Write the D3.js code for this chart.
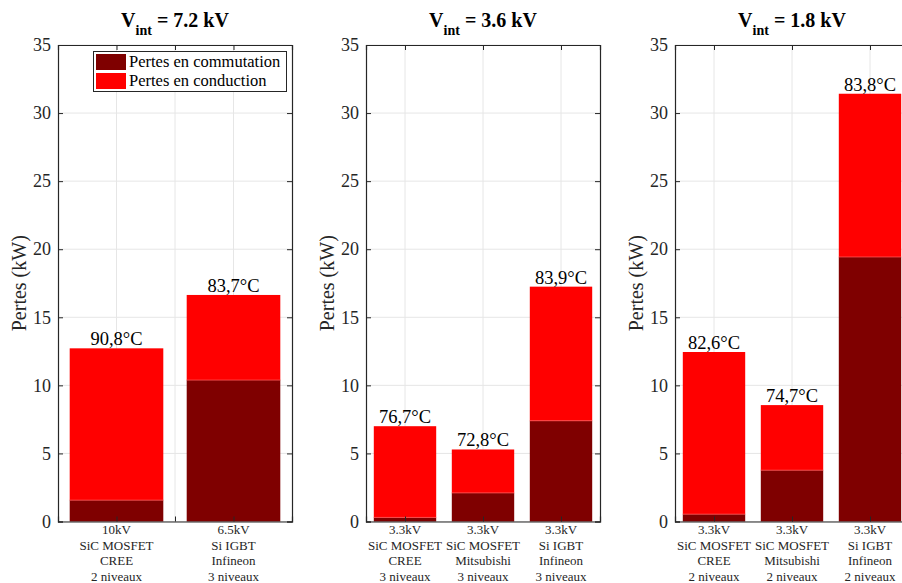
<!DOCTYPE html>
<html><head><meta charset="utf-8">
<script src="https://cdn.jsdelivr.net/npm/d3@7"></script>
<style>body{margin:0;background:#fff}svg{display:block}</style>
</head><body><svg id="c" width="902" height="583" style="font-family:'Liberation Serif',serif"></svg>
<script>
// Data
const titles = ["7.2 kV", "3.6 kV", "1.8 kV"];
const cats1 = [["10kV","SiC MOSFET","CREE","2 niveaux"],["6.5kV","Si IGBT","Infineon","3 niveaux"]];
const cats2 = [["3.3kV","SiC MOSFET","CREE","3 niveaux"],["3.3kV","SiC MOSFET","Mitsubishi","3 niveaux"],["3.3kV","Si IGBT","Infineon","3 niveaux"]];
const cats3 = [["3.3kV","SiC MOSFET","CREE","2 niveaux"],["3.3kV","SiC MOSFET","Mitsubishi","2 niveaux"],["3.3kV","Si IGBT","Infineon","2 niveaux"]];
const commut1 = [1.57, 10.39];
const conduc1 = [11.15, 6.25];
const commut2 = [0.3, 2.1, 7.4];
const conduc2 = [6.7, 3.19, 9.85];
const commut3 = [0.54, 3.77, 19.43];
const conduc3 = [11.91, 4.78, 11.99];
const temps1 = ["90,8°C", "83,7°C"];
const temps2 = ["76,7°C", "72,8°C", "83,9°C"];
const temps3 = ["82,6°C", "74,7°C", "83,8°C"];
const xticks1 = [1, 1.5, 2];
const yticks = [0, 5, 10, 15, 20, 25, 30, 35];
const seriesNames = ["Pertes en commutation", "Pertes en conduction"];
const colors = ["#7f0000", "#ff0000"];

const FONT = "'Liberation Serif', serif";
const panels = [
  {title: titles[0], cats: cats1, commut: commut1, conduc: conduc1, temps: temps1, xt: xticks1, left: 58, legend: true},
  {title: titles[1], cats: cats2, commut: commut2, conduc: conduc2, temps: temps2, xt: [1,2,3], left: 366},
  {title: titles[2], cats: cats3, commut: commut3, conduc: conduc3, temps: temps3, xt: [1,2,3], left: 675}
];

const svg = d3.select("#c");
const W = 234, yTop = 45, yBot = 521.5;
const axisCol = "#262626";

panels.forEach(p => {
  const n = p.cats.length;
  const x = d3.scaleLinear().domain([0.5, n + 0.5]).range([p.left, p.left + W]);
  const y = d3.scaleLinear().domain([0, 35]).range([yBot, yTop]);
  const g = svg.append("g");
  // grid
  g.selectAll(".gy").data(yticks).join("line")
    .attr("x1", p.left).attr("x2", p.left + W)
    .attr("y1", d => y(d)).attr("y2", d => y(d))
    .attr("stroke", "#e6e6e6").attr("stroke-width", 1);
  g.selectAll(".gx").data(p.xt).join("line")
    .attr("x1", d => x(d)).attr("x2", d => x(d))
    .attr("y1", yTop).attr("y2", yBot)
    .attr("stroke", "#e6e6e6").attr("stroke-width", 1);
  // bars
  const bw = x(1.8) - x(1);
  const idx = d3.range(n);
  g.selectAll(".b1").data(idx).join("rect")
    .attr("x", i => x(i + 1) - bw / 2).attr("width", bw)
    .attr("y", i => y(p.commut[i])).attr("height", i => y(0) - y(p.commut[i]))
    .attr("fill", colors[0]);
  g.selectAll(".b2").data(idx).join("rect")
    .attr("x", i => x(i + 1) - bw / 2).attr("width", bw)
    .attr("y", i => y(p.commut[i] + p.conduc[i])).attr("height", i => y(p.commut[i]) - y(p.commut[i] + p.conduc[i]))
    .attr("fill", colors[1]);
  g.selectAll(".sep").data(idx).join("line")
    .attr("x1", i => x(i + 1) - bw / 2).attr("x2", i => x(i + 1) + bw / 2)
    .attr("y1", i => y(p.commut[i])).attr("y2", i => y(p.commut[i]))
    .attr("stroke", "#ff5050").attr("stroke-width", 0.8);
  // temperature labels
  g.selectAll(".t").data(idx).join("text")
    .attr("x", i => x(i + 1)).attr("y", i => y(p.commut[i] + p.conduc[i]) - 3)
    .attr("text-anchor", "middle").style("font-family", FONT).style("font-size", "18.5px").attr("fill", "#000")
    .text(i => p.temps[i]);
  // axes
  const yAxisL = d3.axisLeft(y).tickValues(yticks).tickSize(-5).tickPadding(7).tickFormat(d3.format("d"));
  const yAxisR = d3.axisRight(y).tickValues(yticks).tickSize(-5).tickFormat("");
  const xAxisB = d3.axisBottom(x).tickValues(p.xt).tickSize(-5).tickFormat("");
  const xAxisT = d3.axisTop(x).tickValues(p.xt).tickSize(-5).tickFormat("");
  [[yAxisL, `translate(${p.left},0)`], [yAxisR, `translate(${p.left + W},0)`],
   [xAxisB, `translate(0,${yBot})`], [xAxisT, `translate(0,${yTop})`]].forEach(([ax, tr]) => {
    const a = g.append("g").attr("transform", tr).call(ax);
    a.attr("font-family", null).attr("font-size", null);
    a.select(".domain").attr("stroke", axisCol).attr("stroke-width", 1.2);
    a.selectAll(".tick line").attr("stroke", axisCol);
    a.selectAll("text").style("font-family", FONT).style("font-size", "18px").attr("fill", "#262626");
  });
  // category labels
  idx.forEach(i => {
    const t = g.append("text").attr("text-anchor", "middle").style("font-family", FONT).style("font-size", "13px").attr("fill", "#262626");
    p.cats[i].forEach((line, k) => {
      t.append("tspan").attr("x", x(i + 1)).attr("y", 534 + k * 15.7).text(line);
    });
  });
  // y label
  g.append("text").attr("transform", `translate(${p.left - 32},${(yTop + yBot) / 2}) rotate(-90)`)
    .attr("text-anchor", "middle").style("font-family", FONT).style("font-size", "20px").attr("fill", "#262626").text("Pertes (kW)");
  // title
  const tt = g.append("text").attr("x", p.left + W / 2).attr("y", 27).attr("text-anchor", "middle")
    .style("font-family", "'Liberation Serif'").style("font-weight", "bold").style("font-size", "20px").attr("fill", "#000");
  tt.append("tspan").text("V");
  tt.append("tspan").style("font-size", "14px").attr("dy", 8).text("int");
  tt.append("tspan").attr("dy", -8).text(" = " + p.title);
  // legend
  if (p.legend) {
    const lg = g.append("g");
    lg.append("rect").attr("x", 93.5).attr("y", 51.5).attr("width", 193).attr("height", 40)
      .attr("fill", "#fff").attr("stroke", axisCol).attr("stroke-width", 1);
    seriesNames.forEach((s, k) => {
      lg.append("rect").attr("x", 96).attr("y", 54 + k * 19).attr("width", 30).attr("height", 16).attr("fill", colors[k]);
      lg.append("text").attr("x", 129).attr("y", 67 + k * 19).style("font-family", FONT).style("font-size", "16.5px").attr("fill", "#000").text(s);
    });
  }
});
</script></body></html>
